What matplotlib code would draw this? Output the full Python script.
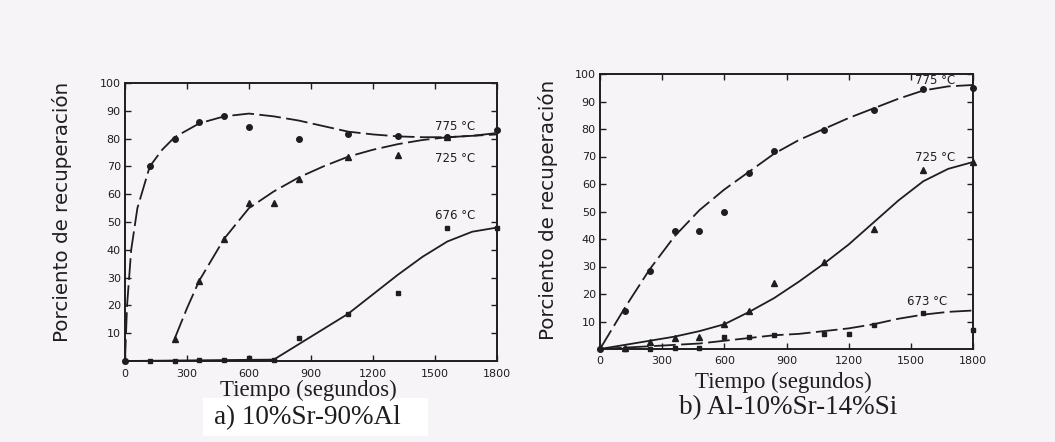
import matplotlib
matplotlib.use("Agg")
import matplotlib.pyplot as plt
from matplotlib.patches import Rectangle

# ---------------- data: panel a (10%Sr-90%Al) ----------------
a_t775 = [0, 120, 240, 360, 480, 600, 840, 1080, 1320, 1560, 1800]
a_v775 = [0, 70, 80, 86, 88, 84, 80, 81.5, 81, 80.5, 83]
a_c775_t = [0, 10, 30, 60, 120, 180, 240, 360, 480, 600, 720, 840, 960, 1080, 1200, 1320, 1440, 1560, 1680, 1800]
a_c775_v = [0, 20, 40, 55, 70, 76, 80.5, 85.5, 88, 89, 88, 86.5, 84.5, 82.5, 81.5, 80.8, 80.5, 80.5, 81, 82]

a_t725 = [240, 360, 480, 600, 720, 840, 1080, 1320, 1560]
a_v725 = [8, 28.6, 44, 57, 57, 65.6, 73.5, 74, 80.5]
a_c725_t = [240, 300, 360, 480, 600, 720, 840, 960, 1080, 1200, 1320, 1440, 1560, 1680, 1800]
a_c725_v = [8, 19, 29, 44, 55, 61, 66, 70, 73.5, 76, 78, 79.5, 80.5, 81, 81.5]

a_t676 = [0, 120, 240, 360, 480, 600, 720, 840, 1080, 1320, 1560, 1800]
a_v676 = [0, 0, 0, 0.3, 0.3, 1, 0.5, 8.3, 17, 24.6, 48, 48]
a_c676_t = [0, 720, 840, 960, 1080, 1200, 1320, 1440, 1560, 1680, 1800]
a_c676_v = [0, 0.5, 6, 11.5, 17, 24, 31, 37.5, 43, 46.5, 48]

# ---------------- data: panel b (Al-10%Sr-14%Si) ----------------
b_t775 = [0, 120, 240, 360, 480, 600, 720, 840, 1080, 1320, 1560, 1800]
b_v775 = [0, 14, 28.5, 43, 43, 50, 64, 72, 79.6, 87, 94.5, 95]
b_c775_t = [0, 120, 240, 360, 480, 600, 720, 840, 960, 1080, 1200, 1320, 1440, 1560, 1680, 1800]
b_c775_v = [0, 15, 29, 41, 50.5, 58, 64.5, 71, 76, 80, 84, 87.5, 91, 94, 95.5, 96]

b_t725 = [120, 240, 360, 480, 600, 720, 840, 1080, 1320, 1560, 1800]
b_v725 = [0.5, 2.5, 4, 4.5, 9, 14, 24, 31.5, 43.7, 65, 68]
b_c725_t = [0, 120, 240, 360, 480, 600, 720, 840, 960, 1080, 1200, 1320, 1440, 1560, 1680, 1800]
b_c725_v = [0, 1.5, 3, 4.5, 6.5, 9, 13.5, 18.5, 24.5, 31, 38, 46, 54, 61, 65.5, 68]

b_t673 = [0, 120, 240, 360, 480, 600, 720, 840, 1080, 1200, 1320, 1560, 1800]
b_v673 = [0, 0, 0, 0.5, 0.5, 4.5, 4.5, 5, 5.5, 5.5, 8.8, 13, 7]
b_c673_t = [0, 120, 240, 360, 480, 600, 720, 840, 960, 1080, 1200, 1320, 1440, 1560, 1680, 1800]
b_c673_v = [0, 0.5, 1, 1.5, 2, 3, 4, 5, 5.5, 6.5, 7.5, 9, 11, 12.5, 13.5, 14]

x_ticks = [0, 300, 600, 900, 1200, 1500, 1800]
y_ticks = [10, 20, 30, 40, 50, 60, 70, 80, 90, 100]

ylabel = "Porciento de recuperación"
xlabel = "Tiempo (segundos)"
cap_a = "a) 10%Sr-90%Al"
cap_b = "b) Al-10%Sr-14%Si"

ink = "#1e1e1e"
bg = "#f6f4f7"
W, H = 1055, 442

fig = plt.figure(figsize=(10.55, 4.42), dpi=100, facecolor=bg)
ax_a = fig.add_axes([125/W, 1-361/H, 372/W, 278/H])
ax_b = fig.add_axes([600/W, 1-349/H, 373/W, 275/H])

def style(ax, xpad):
    ax.set_facecolor(bg)
    ax.set_xlim(0, 1800)
    ax.set_ylim(0, 100)
    ax.set_xticks(x_ticks)
    ax.set_xticklabels([str(v) for v in x_ticks])
    ax.set_yticks(y_ticks)
    ax.set_yticklabels([str(v) for v in y_ticks])
    ax.tick_params(direction="in", length=4, width=1.0, colors=ink,
                   labelsize=8, top=True, right=True, pad=3)
    ax.tick_params(axis="x", pad=xpad)
    for s in ax.spines.values():
        s.set_color(ink)
        s.set_linewidth(1.4)

style(ax_a, 6)
style(ax_b, 5)

dash = (0, (12, 3))
lw = 1.3
ms = 4

# panel a
ax_a.plot(a_c775_t, a_c775_v, color=ink, lw=lw, ls=dash)
ax_a.plot(a_c725_t, a_c725_v, color=ink, lw=lw, ls=dash)
ax_a.plot(a_c676_t, a_c676_v, color=ink, lw=lw, ls="-")
ax_a.plot(a_t775, a_v775, "o", color=ink, ms=ms, clip_on=False)
ax_a.plot(a_t725, a_v725, "^", color=ink, ms=ms+1, clip_on=False)
ax_a.plot(a_t676, a_v676, "s", color=ink, ms=ms-0.5, clip_on=False)
ax_a.text(1500, 83, "775 °C", fontsize=8.5, color=ink)
ax_a.text(1500, 71.5, "725 °C", fontsize=8.5, color=ink)
ax_a.text(1500, 51, "676 °C", fontsize=8.5, color=ink)

# panel b
ax_b.plot(b_c775_t, b_c775_v, color=ink, lw=lw, ls=dash)
ax_b.plot(b_c725_t, b_c725_v, color=ink, lw=lw, ls="-")
ax_b.plot(b_c673_t, b_c673_v, color=ink, lw=lw, ls=dash)
ax_b.plot(b_t775, b_v775, "o", color=ink, ms=ms, clip_on=False)
ax_b.plot(b_t725, b_v725, "^", color=ink, ms=ms+1, clip_on=False)
ax_b.plot(b_t673, b_v673, "s", color=ink, ms=ms-0.5, clip_on=False)
ax_b.text(1520, 96.5, "775 °C", fontsize=8.5, color=ink)
ax_b.text(1520, 68.5, "725 °C", fontsize=8.5, color=ink)
ax_b.text(1480, 16, "673 °C", fontsize=8.5, color=ink)

# axis titles
for (x, y) in [(62, 212), (548, 210)]:
    fig.text(x/W, 1-y/H, ylabel, rotation=90, fontsize=14.3, family="DejaVu Sans",
             color=ink, ha="center", va="center")
for (x, y) in [(308, 390), (783, 382)]:
    fig.text(x/W, 1-y/H, xlabel, fontsize=16.5, family="Liberation Serif",
             color=ink, ha="center", va="center")

# captions
fig.patches.append(Rectangle((203/W, 1-436/H), 225/W, 38/H, transform=fig.transFigure,
                             facecolor="white", edgecolor="none", zorder=0))
fig.text(307/W, 1-418/H, cap_a, fontsize=19.5, family="Liberation Serif", color=ink,
         ha="center", va="center")
fig.text(788/W, 1-408/H, cap_b, fontsize=19.5, family="Liberation Serif", color=ink,
         ha="center", va="center")

fig.savefig("out.png", dpi=100, facecolor=bg)
